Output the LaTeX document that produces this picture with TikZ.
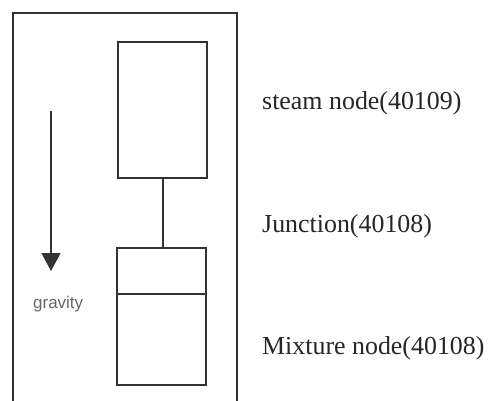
\documentclass[tikz,border=0pt]{standalone}
\usepackage{fontspec}
\setmainfont{Liberation Serif}
\newfontfamily\labelsans{Liberation Sans}
\usetikzlibrary{arrows.meta}
\begin{document}
\begin{tikzpicture}[x=1bp,y=-1bp,
  line/.style={draw=black!80,line width=1.4bp},
  vol/.style={line,minimum width=89bp,inner sep=0pt,outer sep=0pt},
  caption/.style={anchor=base west,inner sep=0pt,font=\fontsize{26}{28}\selectfont,text=black!85},
  grav/.style={anchor=base west,inner sep=0pt,font=\labelsans\fontsize{17}{19}\selectfont,text=black!60}]
  \useasboundingbox (0,0) rectangle (493,400);
  \fill[white] (0,0) rectangle (493,400);
  % vessel wall (runs past the lower edge)
  \begin{scope}
    \clip (0,0) rectangle (493,400);
    \draw[line] (13,13) rectangle (237,410);
  \end{scope}
  % control volumes
  \node[vol,minimum height=136bp,anchor=north west] (steam) at (118,42) {};
  \node[vol,minimum height=46bp,anchor=north west] (junc) at (117,248) {};
  \node[vol,minimum height=91bp,anchor=north west] (mix) at (117,294) {};
  \draw[line] ([xshift=0.5bp]steam.south) -- ([xshift=0.5bp]junc.north -| steam.south);
  % gravity direction
  \coordinate (gtop) at (51,111);
  \coordinate (gbot) at (51,271);
  \draw[line,-{Triangle[width=19bp,length=18bp]}] (gtop) -- (gbot);
  \node[grav] (glabel) at (33,308) {gravity};
  % captions
  \node[caption] (lsteam) at (262,109) {steam node(40109)};
  \node[caption] (ljunc) at (262,232) {Junction(40108)};
  \node[caption] (lmix) at (262,354) {Mixture node(40108)};
\end{tikzpicture}
\end{document}
